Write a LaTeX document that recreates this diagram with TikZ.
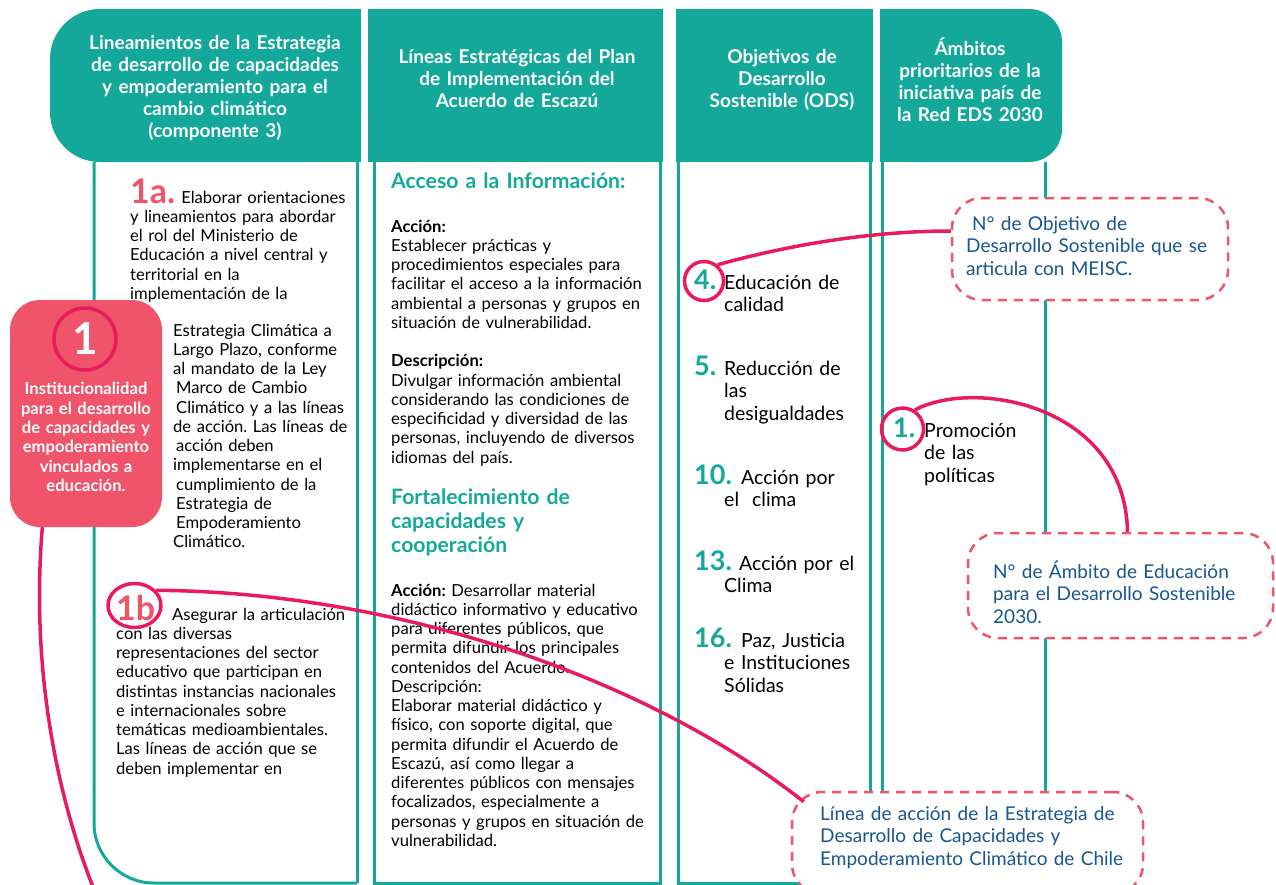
\documentclass[tikz,border=0pt]{standalone}
\usepackage{fontspec}
\setmainfont{Lato}
\usetikzlibrary{shapes.geometric,calc}

\definecolor{edsteal}{RGB}{20,168,155}
\definecolor{edspink}{RGB}{239,84,106}
\definecolor{edsmag}{RGB}{232,28,92}
\definecolor{edsblue}{RGB}{22,86,145}

\tikzset{
  headtext/.style={text=white, align=center, text width=300pt, inner sep=0pt,
    font=\bfseries\fontsize{19}{22}\selectfont},
  colline/.style={draw=edsteal, line width=3pt},
  bodytext/.style={anchor=base west, align=left, text width=300pt, inner sep=0pt,
    font=\fontsize{16.6}{19.25}\selectfont},
  headline/.style={anchor=base west, align=left, text width=300pt, inner sep=0pt,
    text=edsteal, font=\bfseries\fontsize{21.2}{24}\selectfont},
  pinktext/.style={text=white, align=center, text width=150pt, inner sep=0pt,
    font=\bfseries\fontsize{16.6}{19.4}\selectfont},
  odstext/.style={anchor=base west, align=left, text width=200pt, inner sep=0pt,
    font=\fontsize{19.5}{22.5}\selectfont},
  odsnum/.style={anchor=base west, inner sep=0pt, text=edsteal,
    font=\bfseries\fontsize{27}{27}\selectfont},
  ring/.style={draw=edsmag, line width=3.5pt, inner sep=0pt},
  notebox/.style={draw=edspink, dash pattern=on 9pt off 7pt, line width=2.5pt,
    rounded corners=30pt, fill=white, inner sep=0pt},
  notetext/.style={anchor=base west, align=left, text width=340pt, inner sep=0pt,
    text=edsblue, font=\fontsize{19}{22.5}\selectfont},
  magline/.style={draw=edsmag, line width=3.5pt}
}

\newcommand{\bignum}[1]{{\color{edspink}\bfseries\fontsize{34}{34}\selectfont #1}}

\begin{document}
\frenchspacing
\begin{tikzpicture}[x=1pt, y=-1pt]

% Size of the picture
\useasboundingbox (0,0) rectangle (1276,884);
\clip (0,0) rectangle (1276,884);

% Header bands
\fill[edsteal, rounded corners=50pt] (50,9) rectangle (361,162);
\fill[edsteal] (200,9) rectangle (361,162);
\fill[edsteal] (368,9) rectangle (663,162);
\fill[edsteal] (676,9) rectangle (873,162);
\fill[edsteal, rounded corners=33pt] (880,9) rectangle (1062,162);
\fill[edsteal] (880,9) rectangle (980,162);

% Header texts
\node[headtext] (H1) at (215,88) {Lineamientos de la Estrategia\\ de desarrollo de capacidades\\ y empoderamiento para el\\ cambio climático\\ (componente 3)};
\node[headtext] (H2) at (517,79) {Líneas Estratégicas del Plan\\ de Implementación del\\ Acuerdo de Escazú};
\node[headtext] (H3) at (782,80) {Objetivos de\\ Desarrollo\\ Sostenible (ODS)};
\node[headtext] (H4) at (970,80) {Ámbitos\\ prioritarios de la\\ iniciativa país de\\ la Red EDS 2030};

% Column outlines
\draw[colline, rounded corners=60pt] (94,162) -- (94,883) -- (357,883);
\draw[colline] (357,883) -- (357,162);
\draw[colline] (374,162) -- (374,883) -- (660,883) -- (660,162);
\draw[colline] (678,162) -- (678,883) -- (870,883) -- (870,162);
\draw[colline] (882,162) -- (882,884);
\draw[colline] (1045,162) -- (1045,884);

% Column 1: guideline 1a
\node[bodytext] (T1a) at (130,203) {\bignum{1a.}\hspace{6pt}Elaborar orientaciones\\ y lineamientos para abordar\\ el rol del Ministerio de\\ Educación a nivel central y\\ territorial en la\\ implementación de la};
\node[bodytext] (T1aa) at (173,336) {Estrategia Climática a\\ Largo Plazo, conforme\\ al mandato de la Ley\\ \hspace*{3pt}Marco de Cambio\\ \hspace*{3pt}Climático y a las líneas\\ de acción. Las líneas de\\ \hspace*{3pt}acción deben\\ implementarse en el\\ \hspace*{3pt}cumplimiento de la\\ \hspace*{3pt}Estrategia de\\ \hspace*{3pt}Empoderamiento\\ Climático.};

% Column 1: guideline 1b
\node[bodytext] (T1b) at (116,620) {\bignum{1b}\hspace{17pt}Asegurar la articulación\\ con las diversas\\ representaciones del sector\\ educativo que participan en\\ distintas instancias nacionales\\ e internacionales sobre\\ temáticas medioambientales.\\ Las líneas de acción que se\\ deben implementar en};
\node[ring, ellipse, minimum width=53pt, minimum height=44pt] (R1b) at (134.5,605.5) {};

% Pink box 1
\node[fill=edspink, rounded corners=30pt, minimum width=152pt, minimum height=227pt, inner sep=0pt] (P1) at (86,413.5) {};
\node[ring, circle, minimum size=62pt, text=white, font=\bfseries\fontsize{44}{44}\selectfont] (R1) at (85,339) {1};
\node[pinktext] (P1txt) at (86,437) {Institucionalidad\\ para el desarrollo\\ de capacidades y\\ empoderamiento\\ vinculados a\\ educación.};

% Column 2: access to information
\node[headline] (A1) at (391,188) {Acceso a la Información:};
\node[bodytext] (A1txt) at (391,232) {\textbf{Acción:}\\ Establecer prácticas y\\ procedimientos especiales para\\ facilitar el acceso a la información\\ ambiental a personas y grupos en\\ situación de vulnerabilidad.\\[19.25pt] \textbf{Descripción:}\\ Divulgar información ambiental\\ considerando las condiciones de\\ especificidad y diversidad de las\\ personas, incluyendo de diversos\\ idiomas del país.};

% Column 2: capacity building
\node[headline] (A2) at (391,504) {Fortalecimiento de\\ capacidades y\\ cooperación};
\node[bodytext] (A2txt) at (391,596) {\textbf{Acción:} Desarrollar material\\ didáctico informativo y educativo\\ para diferentes públicos, que\\ permita difundir los principales\\ contenidos del Acuerdo.\\ Descripción:\\ Elaborar material didáctico y\\ físico, con soporte digital, que\\ permita difundir el Acuerdo de\\ Escazú, así como llegar a\\ diferentes públicos con mensajes\\ focalizados, especialmente a\\ personas y grupos en situación de\\ vulnerabilidad.};

% Column 3: goals
\node[ring, circle, minimum size=39pt] (C4) at (704,281) {};
\node[odsnum] (N4) at (694,289) {4.};
\node[odstext] (O4) at (724,289) {Educación de\\ calidad};
\node[odsnum] (N5) at (694,375) {5.};
\node[odstext] (O5) at (724,375) {Reducción de\\ las\\ desigualdades};
\node[odsnum] (N10) at (694,484) {10.};
\node[odstext] (O10) at (724,484) {\hspace*{17pt}Acción por\\ el\ \ clima};
\node[odsnum] (N13) at (694,570) {13.};
\node[odstext] (O13) at (724,570) {\hspace*{15pt}Acción por el\\ Clima};
\node[odsnum] (N16) at (694,647) {16.};
\node[odstext] (O16) at (724,647) {\hspace*{17pt}Paz, Justicia\\ e Instituciones\\ Sólidas};

% Column 4: priority areas
\node[ring, circle, minimum size=42pt] (C1) at (902.5,429) {};
\node[odsnum] (N1) at (893,437) {1.};
\node[odstext] (O1) at (924,437) {Promoción\\ de las\\ políticas};

% Dashed notes
\node[notebox, minimum width=276pt, minimum height=102pt] (BoxA) at (1090,249) {};
\node[notetext] (TxtA) at (966,230) {\hspace*{6pt}N° de Objetivo de\\ Desarrollo Sostenible que se\\ articula con MEISC.};
\node[notebox, minimum width=305pt, minimum height=105pt] (BoxB) at (1120.5,585.5) {};
\node[notetext] (TxtB) at (993,578) {N° de Ámbito de Educación\\ para el Desarrollo Sostenible\\ 2030.};
\node[notebox, minimum width=351pt, minimum height=102pt] (BoxC) at (967.5,843) {};
\node[notetext] (TxtC) at (820,820) {Línea de acción de la Estrategia de\\ Desarrollo de Capacidades y\\ Empoderamiento Climático de Chile};

% Connectors
\coordinate (Pend) at (95,892);
\draw[magline] (P1.249) .. controls (32,650) and (50,780) .. (Pend);
\draw[magline] (R1b.35) .. controls (400,592) and (650,680) .. ($(BoxC.north west)+(13,11)$);
\draw[magline] (C4.50) .. controls (800,242) and (880,231) .. ($(BoxA.west)+(0,-18)$);
\draw[magline] (C1.57) .. controls (975,378) and (1125,405) .. ($(BoxB.north)+(7,0)$);

\end{tikzpicture}
\end{document}
